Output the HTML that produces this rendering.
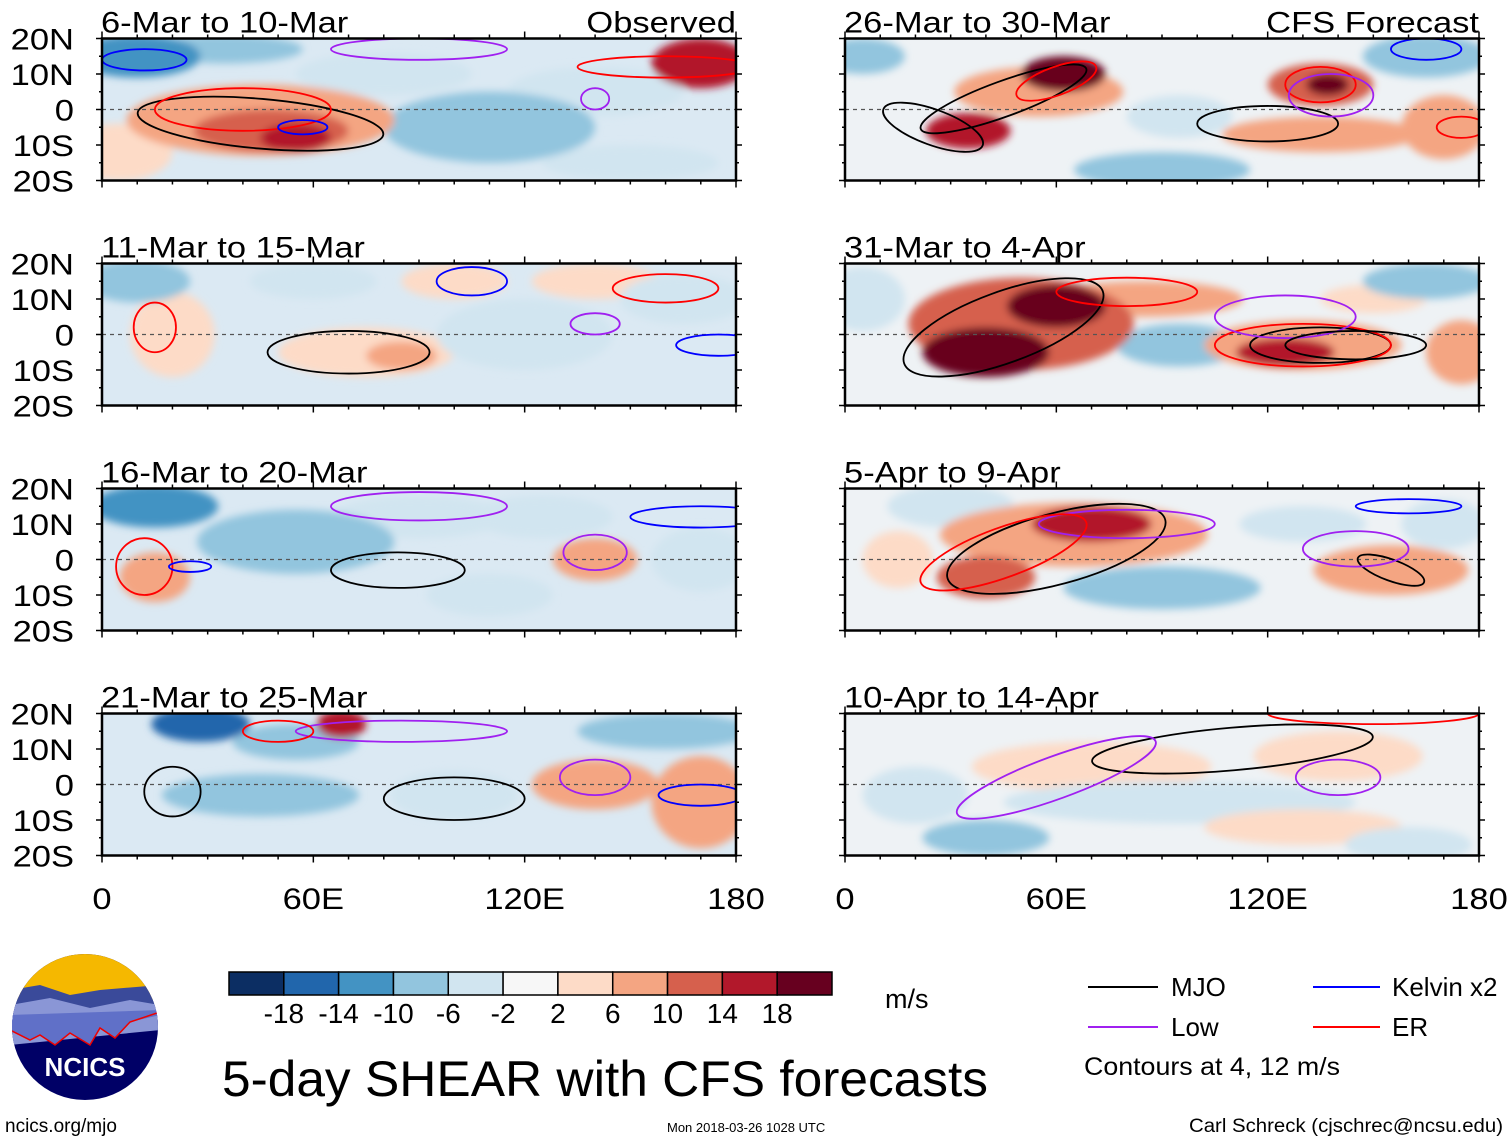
<!DOCTYPE html>
<html><head><meta charset="utf-8">
<style>
body{margin:0;background:#fff;font-family:"Liberation Sans",sans-serif;}
svg text{font-family:"Liberation Sans",sans-serif;}
</style></head>
<body>
<svg id="chart" width="1510" height="1142" viewBox="0 0 1510 1142" xmlns="http://www.w3.org/2000/svg">
<defs>
<filter id="blur" x="-20%" y="-20%" width="140%" height="140%"><feGaussianBlur stdDeviation="4"/></filter>
</defs>
<g id="panels"></g>
<g id="colorbar"></g>
<text x="885" y="1008" font-size="27">m/s</text>
<text x="222" y="1096" font-size="50" textLength="766" lengthAdjust="spacingAndGlyphs">5-day SHEAR with CFS forecasts</text>
<g font-size="26">
<line x1="1088" y1="987" x2="1158" y2="987" stroke="#000" stroke-width="2"/><text x="1171" y="996">MJO</text>
<line x1="1313" y1="987" x2="1380" y2="987" stroke="#0000ff" stroke-width="2"/><text x="1392" y="996">Kelvin x2</text>
<line x1="1088" y1="1027" x2="1158" y2="1027" stroke="#a020f0" stroke-width="2"/><text x="1171" y="1036">Low</text>
<line x1="1313" y1="1027" x2="1380" y2="1027" stroke="#ff0000" stroke-width="2"/><text x="1392" y="1036">ER</text>
<text x="1084" y="1075" font-size="25" textLength="256" lengthAdjust="spacingAndGlyphs">Contours at 4, 12 m/s</text>
</g>
<g>
<clipPath id="lc"><circle cx="85" cy="1027" r="73"/></clipPath>
<g clip-path="url(#lc)">
<rect x="10" y="950" width="150" height="160" fill="#000066"/>
<rect x="10" y="950" width="150" height="50" fill="#f5b800"/>
<path d="M10 990 L40 985 L70 995 L100 990 L160 985 L160 1030 L10 1040Z" fill="#3a4a9a"/>
<path d="M10 1005 L50 998 L90 1008 L130 1000 L160 1005 L160 1030 L10 1045Z" fill="#8a96d6"/>
<path d="M10 1030 L30 1040 L40 1035 L55 1045 L70 1033 L90 1045 L100 1028 L115 1038 L130 1022 L160 1015 L160 1010 L10 1015Z" fill="#6070c8"/>
<path d="M10 1030 L30 1040 L40 1035 L55 1045 L70 1033 L90 1045 L100 1028 L115 1038 L130 1022 L160 1012" fill="none" stroke="#e00" stroke-width="1.5"/>
</g>
<text x="85" y="1076" font-size="26" font-weight="bold" fill="#fff" text-anchor="middle">NCICS</text>
</g>
<text x="5" y="1132" font-size="19">ncics.org/mjo</text>
<text x="667" y="1132" font-size="13">Mon 2018-03-26 1028 UTC</text>
<text x="1503" y="1132" font-size="19" text-anchor="end" textLength="314" lengthAdjust="spacingAndGlyphs">Carl Schreck (cjschrec@ncsu.edu)</text>
</svg>
<script>
const levels=[-22,-18,-14,-10,-6,-2,2,6,10,14,18];
const colorLabels=["-18","-14","-10","-6","-2","2","6","10","14","18"];
const colors=["#0c2e63","#2166ac","#4393c3","#92c5de","#d1e5f0","#f7f7f7","#fddbc7","#f4a582","#d6604d","#b2182b","#67001f"];
const latTicks=[20,10,0,-10,-20];
const latLabels=["20N","10N","0","10S","20S"];
const lonTicks=[0,60,120,180];
const lonLabels=["0","60E","120E","180"];
const panelTitles=["6-Mar to 10-Mar","11-Mar to 15-Mar","16-Mar to 20-Mar","21-Mar to 25-Mar","26-Mar to 30-Mar","31-Mar to 4-Apr","5-Apr to 9-Apr","10-Apr to 14-Apr"];
// shading blobs: [lon, lat, rxDeg, ryDeg, value m/s]
const shading=[
 [[10,15,18,6,-14],[35,17,22,4,-8],[110,-5,30,10,-7],[80,10,25,6,-6],[140,5,25,7,-5],[45,-3,38,10,9],[48,-6,22,6,13],[55,-8,10,4,17],[170,13,14,7,15],[150,-15,25,5,-6],[5,-12,15,8,3]],
 [[10,15,15,6,-9],[60,15,18,5,-5],[75,-5,25,7,5],[85,-6,10,4,9],[120,0,25,10,-6],[20,0,12,12,4],[165,10,18,7,-5],[140,15,18,5,3],[100,15,15,5,3]],
 [[15,15,18,6,-11],[55,5,28,9,-8],[90,12,25,6,-6],[15,-5,10,7,9],[140,0,12,6,7],[170,0,14,9,-5],[110,-10,18,6,-5],[125,12,20,6,-3]],
 [[28,17,14,5,-18],[55,12,18,5,-9],[68,17,7,4,15],[45,-3,28,6,-9],[100,-3,18,7,-6],[140,0,18,7,7],[170,-5,14,13,7],[160,15,25,5,-7]],
 [[55,5,24,7,9],[62,10,12,5,18],[35,-6,12,5,15],[5,15,12,5,-7],[135,7,15,6,11],[137,7,6,3,18],[135,-7,28,5,7],[90,-17,25,5,-9],[165,15,18,6,-9],[170,-5,12,9,7],[95,-2,15,6,-5]],
 [[50,3,32,13,11],[40,-5,18,7,18],[60,8,14,6,18],[85,10,28,5,9],[130,-3,28,7,9],[125,-5,14,4,15],[95,-3,18,6,-8],[165,15,18,5,-7],[5,10,12,9,-5],[175,-5,10,9,7],[150,10,15,4,5]],
 [[65,7,38,9,9],[70,10,17,5,17],[40,-5,14,6,11],[90,-8,28,6,-8],[30,15,18,6,-5],[155,-3,22,7,6],[130,10,18,5,-5],[170,10,12,7,-6],[15,0,10,8,3]],
 [[70,5,34,7,5],[95,-5,50,6,-5],[40,-15,18,5,-7],[130,-12,28,5,5],[140,8,24,7,4],[160,-17,18,5,-5],[20,-3,15,8,-3]]
];
// contours: [lon, lat, rx, ry, rotationDeg, color]
const contours=[
 [[45,-4,35,7,5,"#000"],[40,0,25,6,0,"#f00"],[12,14,12,3,0,"#00f"],[57,-5,7,2,0,"#00f"],[140,3,4,3,0,"#a020f0"],[90,17,25,3,0,"#a020f0"],[160,12,25,3,0,"#f00"]],
 [[70,-5,23,6,0,"#000"],[105,15,10,4,0,"#00f"],[160,13,15,4,0,"#f00"],[140,3,7,3,0,"#a020f0"],[15,2,6,7,0,"#f00"],[175,-3,12,3,0,"#00f"]],
 [[84,-3,19,5,0,"#000"],[140,2,9,5,0,"#a020f0"],[90,15,25,4,0,"#a020f0"],[170,12,20,3,0,"#00f"],[12,-2,8,8,0,"#f00"],[25,-2,6,1.5,0,"#00f"]],
 [[100,-4,20,6,0,"#000"],[20,-2,8,7,0,"#000"],[140,2,10,5,0,"#a020f0"],[85,15,30,3,0,"#a020f0"],[170,-3,12,3,0,"#00f"],[50,15,10,3,0,"#f00"]],
 [[45,3,25,5,-20,"#000"],[25,-5,15,5,20,"#000"],[120,-4,20,5,0,"#000"],[135,7,10,5,0,"#f00"],[138,4,12,6,0,"#a020f0"],[60,8,12,4,-20,"#f00"],[165,17,10,3,0,"#00f"],[175,-5,7,3,0,"#f00"]],
 [[45,2,30,10,-20,"#000"],[135,-3,20,5,0,"#000"],[80,12,20,4,0,"#f00"],[130,-3,25,6,0,"#f00"],[125,5,20,6,0,"#a020f0"],[145,-3,20,4,0,"#000"]],
 [[60,3,32,10,-15,"#000"],[80,10,25,4,0,"#a020f0"],[155,-3,10,3,20,"#000"],[160,15,15,2,0,"#00f"],[145,3,15,5,0,"#a020f0"],[45,2,25,7,-20,"#f00"]],
 [[110,10,40,6,-5,"#000"],[60,2,30,6,-20,"#a020f0"],[140,2,12,5,0,"#a020f0"],[150,20,30,3,0,"#f00"]]
];
const NS="http://www.w3.org/2000/svg";
const W=634,H=142;
const lefts=[102,845], tops=[38.5,263.5,488.5,713.5];
const wide=[];
function mk(tag,attrs,parent){const e=document.createElementNS(NS,tag);for(const k in attrs)e.setAttribute(k,attrs[k]);parent.appendChild(e);return e;}
function colorFor(v){let i=0;for(let k=0;k<levels.length;k++){if(v>=levels[k])i=k;}return colors[i];}
const root=document.getElementById('panels');
for(let p=0;p<8;p++){
 const col=p<4?0:1,row=p%4;
 const x0=lefts[col],y0=tops[row];
 const xs=lon=>x0+lon/180*W;
 const ys=lat=>y0+(20-lat)/40*H;
 const g=mk('g',{},root);
 
 
 const cid='clip'+p;
 const cp=mk('clipPath',{id:cid},g);mk('rect',{x:x0,y:y0,width:W,height:H},cp);
 const inner=mk('g',{'clip-path':'url(#'+cid+')'},g);
 mk('rect',{x:x0,y:y0,width:W,height:H,fill:col===0?'#dbe9f3':'#eef2f5'},inner);
 const sg=mk('g',{filter:'url(#blur)'},inner);
 shading[p].slice().sort((a,b)=>Math.abs(a[4])-Math.abs(b[4])).forEach(b=>{
  const e=mk('ellipse',{cx:xs(b[0]),cy:ys(b[1]),rx:b[2]/180*W,ry:b[3]/40*H,fill:colorFor(b[4])},sg);
  
  
 });
 mk('line',{x1:x0,y1:ys(0),x2:x0+W,y2:ys(0),stroke:'#555','stroke-dasharray':'4,4','stroke-width':1.2},inner);
 contours[p].forEach(c=>{
  const e=mk('ellipse',{cx:xs(c[0]),cy:ys(c[1]),rx:c[2]/180*W,ry:c[3]/40*H,fill:'none',stroke:c[5],'stroke-width':1.8,transform:`rotate(${c[4]} ${xs(c[0])} ${ys(c[1])})`},inner);
  
  
 });
 mk('rect',{x:x0,y:y0,width:W,height:H,fill:'none',stroke:'#000','stroke-width':2.5},g);
 for(let l=0;l<=180;l+=10){const len=l%60==0?7:4;mk('line',{x1:xs(l),y1:y0+H,x2:xs(l),y2:y0+H+len,stroke:'#000','stroke-width':1.5},g);mk('line',{x1:xs(l),y1:y0,x2:xs(l),y2:y0-len,stroke:'#000','stroke-width':1.5},g);}
 for(let a=-20;a<=20;a+=5){const len=a%10==0?6:3;mk('line',{x1:x0,y1:ys(a),x2:x0-len,y2:ys(a),stroke:'#000','stroke-width':1.5},g);mk('line',{x1:x0+W,y1:ys(a),x2:x0+W+len,y2:ys(a),stroke:'#000','stroke-width':1.5},g);}
 const t=mk('text',{x:x0-1,y:y0-6,'font-size':30},g);t.textContent=panelTitles[p];
 
 
 wide.push(t);
 if(p===0){const r=mk('text',{x:x0+W,y:y0-6,'font-size':30,'text-anchor':'end'},g);r.textContent='Observed';wide.push(r);}
 if(p===4){const r=mk('text',{x:x0+W,y:y0-6,'font-size':30,'text-anchor':'end'},g);r.textContent='CFS Forecast';wide.push(r);}
 if(col===0){latTicks.forEach((a,i)=>{const tt=mk('text',{x:74,y:ys(a)+11,'font-size':30,'text-anchor':'end'},g);tt.textContent=latLabels[i];wide.push(tt);});}
 if(row===3){lonTicks.forEach((l,i)=>{const tt=mk('text',{x:xs(l),y:909,'font-size':30,'text-anchor':'middle'},g);tt.textContent=lonLabels[i];wide.push(tt);});}
}
wide.forEach(t=>{const w=t.getComputedTextLength();t.setAttribute('textLength',(w*1.15).toFixed(1));t.setAttribute('lengthAdjust','spacingAndGlyphs');});
const cb=document.getElementById('colorbar');
const cbx=229,cbw=603/11;
colors.forEach((c,i)=>{const r=mk('rect',{x:cbx+i*cbw,y:972,width:cbw,height:23,fill:c,stroke:'#000','stroke-width':1.5},cb);});
colorLabels.forEach((s,i)=>{const t=mk('text',{x:cbx+(i+1)*cbw,y:1023,'font-size':28,'text-anchor':'middle'},cb);t.textContent=s;});
</script>
</body></html>
